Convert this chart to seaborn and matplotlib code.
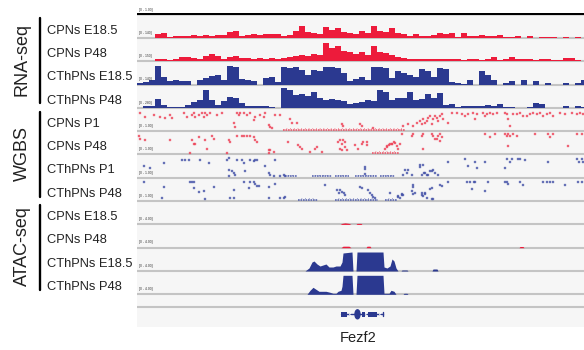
import numpy as np
import pandas as pd
import matplotlib
matplotlib.use("Agg")
import matplotlib.pyplot as plt
from matplotlib.lines import Line2D
from matplotlib.patches import Ellipse
import seaborn as sns

sns.set_theme(style="white")
plt.rcParams['font.family'] = ['Liberation Sans', 'DejaVu Sans']

# ---------------- data ----------------
group_names = ["RNA-seq", "WGBS", "ATAC-seq"]
track_names = ["CPNs E18.5", "CPNs P48", "CThPNs E18.5", "CThPNs P48",
               "CPNs P1", "CPNs P48", "CThPNs P1", "CThPNs P48",
               "CPNs E18.5", "CPNs P48", "CThPNs E18.5", "CThPNs P48"]
scale_labels = ["[0 - 140]", "[0 - 150]", "[0 - 140]", "[0 - 280]",
                "[0 - 1.00]", "[0 - 1.00]", "[0 - 1.00]", "[0 - 1.00]",
                "[0 - 4.00]", "[0 - 4.00]", "[0 - 4.00]", "[0 - 4.00]"]
gene_name = "Fezf2"

bin_width = 6  # genomic bin width (display units)

rna_cpn_e185 = [0, 0, 0, 4, 5, 1, 2, 2, 2, 3, 2, 3, 2, 3, 3, 6, 7, 2, 3, 4,
                3, 4, 4, 4, 2, 3, 7, 12, 6, 5, 4, 11, 8, 10, 6, 5, 4, 7, 5, 12,
                7, 6, 10, 5, 4, 2, 4, 2, 2, 3, 5, 4, 5, 1, 5, 2, 2, 3, 2, 2,
                3, 1, 1, 2, 0, 2, 0, 1, 1, 1, 0, 1, 0, 1, 0]
rna_cpn_p48 = [0, 0, 0, 2, 2, 1, 2, 4, 4, 3, 2, 5, 7, 5, 2, 4, 5, 3, 3, 2,
               3, 2, 3, 2, 3, 4, 5, 6, 5, 7, 6, 18, 13, 15, 10, 9, 7, 9, 6, 15,
               9, 8, 6, 4, 3, 2, 2, 2, 2, 2, 2, 2, 2, 2, 1, 2, 2, 1, 2, 4,
               1, 2, 4, 2, 2, 2, 1, 2, 2, 1, 1, 3, 3, 1, 0]
rna_cth_e185 = [2, 3, 5, 19, 8, 4, 5, 4, 4, 0, 5, 7, 9, 10, 5, 19, 18, 6, 5, 4,
                0, 7, 8, 3, 18, 17, 18, 15, 10, 15, 14, 18, 18, 17, 12, 4, 6, 8, 5, 18,
                18, 17, 7, 14, 12, 10, 8, 16, 14, 8, 17, 16, 3, 2, 1, 5, 0, 14, 10, 5,
                0, 2, 4, 0, 5, 0, 4, 0, 2, 0, 0, 2, 0, 2, 5]
rna_cth_p48 = [0, 2, 2, 9, 3, 1, 1, 1, 3, 6, 8, 18, 8, 3, 7, 11, 10, 5, 2, 2,
               2, 2, 1, 0, 20, 18, 13, 14, 12, 16, 10, 8, 9, 8, 7, 4, 5, 6, 8, 7,
               18, 16, 8, 10, 10, 16, 8, 9, 14, 10, 15, 3, 4, 1, 2, 2, 2, 2, 3, 2,
               4, 1, 1, 0, 0, 1, 5, 4, 0, 0, 0, 2, 0, 2, 1]

# WGBS: (position, methylation height) per CpG
wgbs_cpn_p1 = [(3, 17), (8, 13), (17, 15), (23, 13), (28, 12), (33, 15), (35, 12), (47, 17), (50, 13),
               (55, 15), (57, 17), (58, 13), (62, 15), (65, 17), (67, 13), (68, 17), (70, 15), (73, 17),
               (80, 15), (85, 17), (97, 7), (98, 3), (100, 17), (102, 15), (103, 17), (107, 17), (110, 15),
               (113, 17), (117, 10), (118, 13), (123, 15), (127, 13), (128, 17), (132, 5), (133, 3),
               (135, 2), (138, 15), (143, 15), (153, 11), (155, 7), (160, 7), (205, 6), (206, 4), (223, 6),
               (225, 4), (236, 2), (266, 4), (271, 6), (276, 4), (280, 7), (283, 9), (285, 6), (286, 11),
               (288, 7), (290, 9), (291, 12), (293, 14), (295, 6), (296, 11), (298, 14), (300, 12),
               (301, 9), (303, 14), (305, 16), (306, 11), (311, 7), (315, 17), (320, 17), (325, 16),
               (328, 14), (331, 16), (336, 17), (338, 11), (340, 16), (346, 17), (348, 14), (350, 16),
               (353, 17), (356, 16), (360, 17), (368, 17), (370, 16), (371, 11), (373, 4), (376, 16),
               (380, 16), (383, 17), (386, 14), (390, 14), (393, 16), (396, 17), (400, 16), (403, 17),
               (406, 14), (410, 16), (413, 17), (416, 14), (423, 17), (428, 16), (435, 17), (440, 16),
               (443, 17), (446, 16)]
wgbs_cpn_p48 = [(2, 17), (3, 14), (8, 13), (33, 13), (55, 13), (57, 9), (58, 9), (62, 16), (68, 13),
                (70, 4), (75, 17), (77, 14), (92, 13), (93, 11), (100, 17), (105, 17), (107, 17), (110, 17),
                (113, 17), (117, 16), (118, 13), (120, 11), (132, 3), (133, 3), (137, 1), (53, 0.5),
                (90, 0.5), (132, 0.5), (151, 11), (161, 8), (163, 6), (165, 4), (173, 1), (178, 4),
                (180, 6), (185, 1), (201, 11), (203, 13), (205, 9), (206, 13), (208, 11), (203, 4),
                (205, 3), (208, 6), (210, 3), (218, 8), (221, 4), (225, 9), (226, 11), (230, 11), (230, 8),
                (248, 4), (250, 6), (252, 8), (253, 9), (255, 9), (257, 11), (261, 4), (250, 7), (255, 9),
                (258, 10), (260, 7), (263, 9), (265, 19), (275, 17), (276, 19), (285, 17), (286, 19),
                (286, 4), (295, 19), (296, 17), (298, 14), (300, 14), (301, 17), (303, 19), (303, 12),
                (305, 16), (348, 19), (353, 16), (358, 19), (368, 19), (370, 17), (371, 19), (373, 17),
                (376, 19), (380, 17), (371, 7), (398, 19), (411, 19), (413, 16), (416, 19), (431, 7),
                (440, 19), (445, 19)]
wgbs_cth_p1 = [(27, 14), (45, 17), (48, 17), (52, 17), (63, 17), (72, 14), (90, 17), (92, 19), (100, 17),
               (105, 17), (107, 14), (113, 17), (117, 16), (118, 17), (120, 17), (128, 11), (138, 17),
               (7, 11), (13, 9), (92, 7), (95, 6), (97, 4), (108, 6), (132, 4), (133, 2), (137, 1),
               (143, 0.5), (148, 0.5), (92, 0.5), (98, 2), (147, 2), (228, 10), (228, 8), (228, 3),
               (271, 7), (275, 2), (283, 12), (283, 10), (285, 2), (287, 4), (291, 2), (293, 6),
               (266, 2), (268, 7), (270, 4), (286, 12), (288, 4), (290, 2), (295, 6), (296, 7), (298, 4),
               (301, 2), (311, 15), (328, 18), (331, 11), (338, 15), (340, 9), (348, 15), (368, 9),
               (370, 18), (373, 15), (375, 18), (381, 18), (383, 18), (388, 17), (411, 15), (440, 18),
               (442, 15), (445, 18), (446, 15)]
wgbs_cth_p48 = [(7, 18), (27, 13), (53, 18), (55, 18), (57, 18), (57, 12), (62, 8), (67, 9), (77, 13),
                (97, 10), (107, 18), (112, 12), (113, 18), (117, 18), (118, 16), (120, 14), (122, 14),
                (132, 13), (138, 16), (147, 2), (148, 3), (25, 2), (68, 0.5), (93, 2), (97, 2), (132, 2),
                (143, 2), (188, 15), (200, 10), (202, 7), (203, 10), (205, 8), (207, 7), (208, 5),
                (223, 13), (225, 12), (231, 10), (233, 7), (235, 5), (236, 3), (238, 2), (261, 3),
                (265, 5), (276, 13), (278, 7), (285, 5), (288, 7), (295, 12), (253, 7), (261, 4), (263, 2),
                (265, 6), (266, 5), (275, 9), (276, 15), (276, 6), (285, 7), (286, 4), (288, 6), (290, 2),
                (293, 11), (295, 1), (296, 0.5), (303, 15), (305, 14), (311, 18), (330, 18), (333, 18),
                (337, 18), (338, 18), (335, 11), (351, 18), (348, 9), (368, 18), (370, 18), (371, 16),
                (383, 18), (386, 15), (406, 18), (410, 18), (413, 18), (416, 18), (428, 15), (441, 18),
                (445, 18)]
# runs of densely packed unmethylated CpGs (start, end)
wgbs_low_runs = [
    [(146, 268)],
    [(235, 262)],
    [(148, 160), (175, 195), (198, 212), (218, 240), (243, 258)],
    [(161, 181), (198, 241), (248, 260)],
]

# ATAC: (position, signal height) breakpoints
atac_cpn_e185 = [(203, 0), (205, 1), (208, 1.5), (212, 1), (214, 0), (219, 0), (220, 1), (224, 1), (225, 0)]
atac_cpn_p48 = [(204, 0), (206, 1.5), (212, 1.5), (214, 0), (229, 0), (230, 1.5), (233, 1.5), (234, 0),
                (382, 0), (383, 1.2), (386, 1.2), (387, 0)]
atac_cth_e185 = [(168, 0), (172, 3), (175, 9), (177, 10), (180, 7), (183, 5), (186, 6), (189, 7),
                 (192, 4), (196, 4), (199, 5), (203, 5), (205, 9), (206, 18), (215, 19), (216, 0),
                 (219, 0), (220, 19), (246, 19), (247, 4), (250, 3), (253, 5), (255, 12), (257, 10),
                 (259, 3), (261, 0), (264, 0), (265, 1), (270, 1), (271, 0), (295, 0), (296, 2),
                 (300, 2), (301, 0)]
atac_cth_p48 = [(170, 0), (173, 4), (176, 7), (179, 5), (182, 3), (186, 3), (189, 3), (193, 2), (196, 1),
                (199, 1), (201, 3), (204, 4), (205, 8), (206, 19), (215, 19), (216, 0), (219, 0),
                (220, 19), (246, 19), (247, 1), (252, 1), (254, 4), (257, 3), (259, 0), (266, 0),
                (267, 1), (270, 1), (271, 0)]

# gene model
gene_start, gene_end = 204, 246
gene_blocks = [(204, 210), (225, 228), (231, 240)]
gene_big_exon = (218, 223)

# ---------------- styles ----------------
RED = "#ed1b3b"
BLUE = "#2b3990"
DOT_RED = "#ee4257"
DOT_BLUE = "#4452a8"
BASE_GRAY = "#c4c4c4"
TXT = "#222222"

W, H = 584, 350
fig = plt.figure(figsize=(W / 100, H / 100), dpi=100)
fig.patch.set_facecolor("white")
top, bottom, left = 13, 327, 137
ax = fig.add_axes([left / W, 1 - bottom / H, (W - left) / W, (bottom - top) / H])
ax.set_xlim(0, W - left)
ax.set_ylim(bottom, top)
ax.set_facecolor("#f6f6f6")
for s in ax.spines.values():
    s.set_visible(False)
ax.set_xticks([])
ax.set_yticks([])

ax.axhline(top + 1.0, color="black", lw=1.6, zorder=5)

spacing = 23.3
bases = [top + 1.7 + spacing * (k + 1) for k in range(12)]

for b in bases:
    ax.axhline(b, color=BASE_GRAY, lw=1.5, zorder=1)
ax.axhline(bases[-1] + 13, color=BASE_GRAY, lw=1.5, zorder=1)

# RNA-seq coverage (binned bars)
rna_tracks = [(rna_cpn_e185, RED), (rna_cpn_p48, RED), (rna_cth_e185, BLUE), (rna_cth_p48, BLUE)]
for k, (vals, col) in enumerate(rna_tracks):
    v = np.array(vals, dtype=float)
    edges = np.arange(len(v) + 1) * bin_width
    vv = np.append(v, v[-1])
    ax.fill_between(edges, bases[k], bases[k] - vv, step="post", color=col, lw=0, zorder=2)

# WGBS dots
wgbs_tracks = [(wgbs_cpn_p1, DOT_RED), (wgbs_cpn_p48, DOT_RED), (wgbs_cth_p1, DOT_BLUE), (wgbs_cth_p48, DOT_BLUE)]
for j, (pts, col) in enumerate(wgbs_tracks):
    b = bases[4 + j]
    df = pd.DataFrame(pts, columns=["pos", "meth"])
    df["y"] = b - 1.2 - df["meth"]
    sns.scatterplot(data=df, x="pos", y="y", ax=ax, marker="s", s=2.2,
                    color=col, edgecolor=col, linewidth=0.25, alpha=0.75, legend=False, zorder=3)
    for (s0, s1) in wgbs_low_runs[j]:
        ax.hlines(b - 1.3, s0, s1, color=col, lw=1.2, linestyles=(0, (1.0, 0.5)), alpha=0.85, zorder=3)
        ax.hlines(b - 3.0, s0 + 3, s1 - 3, color=col, lw=0.7, linestyles=(0, (0.8, 3.0)), alpha=0.6, zorder=3)
ax.set_xlabel("")
ax.set_ylabel("")

# ATAC-seq
atac_tracks = [(atac_cpn_e185, RED), (atac_cpn_p48, RED), (atac_cth_e185, BLUE), (atac_cth_p48, BLUE)]
for j, (pts, col) in enumerate(atac_tracks):
    b = bases[8 + j]
    arr = np.array(pts, dtype=float)
    ax.fill_between(arr[:, 0], b, b - arr[:, 1], color=col, lw=0, zorder=2)

# gene model
gy = bases[-1] + 20
ax.plot([gene_start, gene_end], [gy, gy], color=BLUE, lw=1.0, zorder=4)
for (s0, s1) in gene_blocks:
    ax.fill_between([s0, s1], gy - 2.6, gy + 2.6, color=BLUE, lw=0, zorder=4)
ax.add_patch(Ellipse(((gene_big_exon[0] + gene_big_exon[1]) / 2, gy),
                     gene_big_exon[1] - gene_big_exon[0], 9, color=BLUE, zorder=4))
ax.plot([gene_end, gene_end], [gy - 2.2, gy + 2.2], color=BLUE, lw=1.0, zorder=4)
for cx in [213, 229, 243]:
    ax.plot([cx + 1, cx - 0.5, cx + 1], [gy - 1.5, gy, gy + 1.5], color="white", lw=0.6, zorder=5)

# tiny scale labels
for k, lab in enumerate(scale_labels):
    ax.text(2, bases[k] - 3.2, lab, fontsize=2.4, color="#333333", ha="left", va="bottom", zorder=6)
ax.text(2, top - 0.5, "[0 - 1.00]", fontsize=2.4, color="#333333", ha="left", va="bottom", zorder=6,
        clip_on=False)

# left labels
for k, name in enumerate(track_names):
    fig.text(47 / W, 1 - (bases[k] - 7.3) / H, name, fontsize=9.3, color=TXT,
             ha="left", va="center")

group_spans = [(18, 103), (112, 197), (205, 290)]
group_centers = [60, 154, 246]
for name, (y0, y1), yc in zip(group_names, group_spans, group_centers):
    fig.add_artist(Line2D([40 / W, 40 / W], [1 - y0 / H, 1 - y1 / H], color="black", lw=1.7))
    fig.text(22 / W, 1 - yc / H, name, fontsize=13, rotation=90, color=TXT,
             ha="center", va="center")

fig.text(358 / W, 1 - 338 / H, gene_name, fontsize=10.5, color=TXT, ha="center", va="center")

fig.savefig("out.png", dpi=100, facecolor="white")
